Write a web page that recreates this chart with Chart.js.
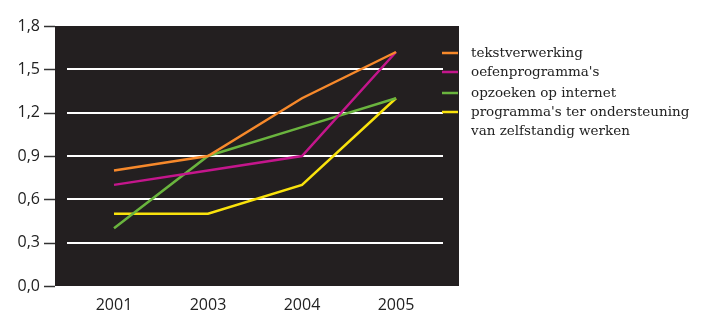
<!DOCTYPE html>
<html>
<head>
<meta charset="utf-8">
<script src="https://cdn.jsdelivr.net/npm/chart.js@4/dist/chart.umd.min.js"></script>
<style>
  html, body { margin: 0; padding: 0; background: #ffffff; }
  #wrap { width: 703px; height: 315px; position: relative; }
</style>
</head>
<body>
<div id="wrap"><canvas id="c" width="703" height="315"></canvas></div>
<script>
const years = ['2001', '2003', '2004', '2005'];
const yTicks = [0, 0.3, 0.6, 0.9, 1.2, 1.5, 1.8];
const seriesNames = ['tekstverwerking', "oefenprogramma's", 'opzoeken op internet', "programma's ter ondersteuning\nvan zelfstandig werken"];
const tekstverwerking = [0.8, 0.9, 1.3, 1.62];
const oefenprogrammas = [0.7, 0.8, 0.9, 1.62];
const opzoekenInternet = [0.4, 0.9, 1.1, 1.3];
const zelfstandigWerken = [0.5, 0.5, 0.7, 1.3];
const colors = ['#f7892b', '#c4168c', '#6ab43e', '#f9e20c'];

const numFont = { family: "'Open Sans', sans-serif", size: 16 };
const textFont = "13.5px 'DejaVu Serif', serif";

const bgPlugin = {
  id: 'bg',
  beforeDraw(chart) {
    const { ctx, chartArea: a, scales } = chart;
    ctx.save();
    ctx.fillStyle = '#231f20';
    ctx.fillRect(a.left - 12, a.top, (a.right + 16) - (a.left - 12), a.bottom - a.top);
    ctx.strokeStyle = '#333333';
    ctx.lineWidth = 1.5;
    yTicks.forEach(v => {
      const y = Math.round(scales.y.getPixelForValue(v)) + 0.5;
      ctx.beginPath();
      ctx.moveTo(a.left - 23, y);
      ctx.lineTo(a.left - 12, y);
      ctx.stroke();
    });
    ctx.restore();
  },
  afterDraw(chart) {
    const { ctx, chartArea: a } = chart;
    ctx.save();
    ctx.font = textFont;
    ctx.fillStyle = '#222222';
    ctx.textBaseline = 'middle';
    ctx.textAlign = 'left';
    const rows = [53, 72, 93, 112];
    seriesNames.forEach((name, i) => {
      ctx.strokeStyle = colors[i];
      ctx.lineWidth = 2.5;
      ctx.beginPath();
      ctx.moveTo(a.right - 1, rows[i]);
      ctx.lineTo(a.right + 15, rows[i]);
      ctx.stroke();
      name.split('\n').forEach((line, k) => {
        ctx.fillText(line, a.right + 28, rows[i] + k * 19);
      });
    });
    ctx.restore();
  }
};

const mk = (label, data, color) => ({
  label, data, borderColor: color, backgroundColor: color,
  borderWidth: 2.5, pointRadius: 0, tension: 0, fill: false
});

new Chart(document.getElementById('c'), {
  type: 'line',
  data: {
    labels: years,
    datasets: [
      mk(seriesNames[0], tekstverwerking, colors[0]),
      mk(seriesNames[1], oefenprogrammas, colors[1]),
      mk(seriesNames[2], opzoekenInternet, colors[2]),
      mk(seriesNames[3], zelfstandigWerken, colors[3])
    ]
  },
  options: {
    responsive: false,
    animation: false,
    devicePixelRatio: 1,
    layout: { padding: { top: 26, right: 260, left: 0, bottom: 0 } },
    plugins: { legend: { display: false }, tooltip: { enabled: false } },
    scales: {
      x: {
        offset: true,
        grid: { display: false, drawTicks: false },
        border: { display: false },
        ticks: { color: '#222222', font: numFont, padding: 10 },
        afterFit(s) { s.height = 29; s.paddingLeft = 0; s.paddingRight = 0; }
      },
      y: {
        min: 0, max: 1.8,
        afterBuildTicks(s) { s.ticks = yTicks.map(v => ({ value: v })); },
        grid: {
          drawTicks: false,
          lineWidth: 2,
          color: ctx => (ctx.tick && (ctx.tick.value === 0 || ctx.tick.value === 1.8)) ? 'rgba(0,0,0,0)' : '#ffffff'
        },
        border: { display: false },
        ticks: {
          color: '#222222', font: numFont, padding: 27,
          callback: v => v.toFixed(1).replace('.', ',')
        },
        afterFit(s) { s.width = 67; s.paddingTop = 0; s.paddingBottom = 0; }
      }
    }
  },
  plugins: [bgPlugin]
});
</script>
</body>
</html>
